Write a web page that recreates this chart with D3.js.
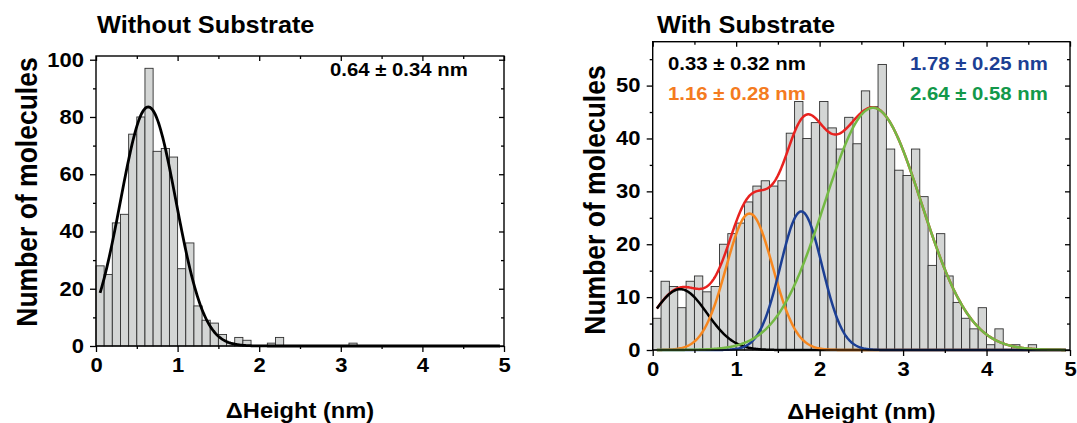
<!DOCTYPE html>
<html>
<head>
<meta charset="utf-8">
<script src="https://cdn.jsdelivr.net/npm/d3@7"></script>
<style>
  body { margin: 0; background: #fff; }
  svg { display: block; font-family: "Liberation Sans", Arial, sans-serif; font-weight: bold; }
</style>
</head>
<body>
<div id="vis"></div>
<script>
// histogram counts, bins of 0.1 nm starting at 0
const binWidth = 0.1
const countsBare = [28, 25, 43, 46, 74, 80, 97, 68, 69, 66,
                    27, 36, 14, 9, 8, 4, 1, 3, 2, 0,
                    0, 1, 3, 0, 0, 0, 0, 0, 0, 0,
                    0, 1]
const countsSubstrate = [6, 13, 12, 8, 13, 14, 11, 12, 20, 22,
                         24, 28, 31, 32, 31, 32, 41, 47, 40, 43,
                         47, 42, 38, 44, 39, 49, 46, 54, 38, 34,
                         33, 38, 29, 16, 22, 14, 9, 6, 4, 8,
                         1, 4, 0, 1, 0, 1]

// gaussian fits
const fitMeansBare = [0.64]
const fitSdsBare = [0.34]
const fitAmpsBare = [83.5]
const fitMeansSubstrate = [0.33, 1.16, 1.78, 2.64]
const fitSdsSubstrate = [0.32, 0.28, 0.25, 0.58]
const fitAmpsSubstrate = [11.5, 25.8, 26.2, 45.8]

const xTicks = [0, 1, 2, 3, 4, 5]
const xMinor = [0.5, 1.5, 2.5, 3.5, 4.5]
const yTicksBare = [0, 20, 40, 60, 80, 100]
const yMinorBare = [10, 30, 50, 70, 90]
const yTicksSubstrate = [0, 10, 20, 30, 40, 50]
const yMinorSubstrate = [5, 15, 25, 35, 45, 55]

const labelsBare = ['0.64 ± 0.34 nm']
const labelsSubstrate = ['0.33 ± 0.32 nm', '1.16 ± 0.28 nm', '1.78 ± 0.25 nm', '2.64 ± 0.58 nm']

const compColors = ['#000000', '#f7871f', '#1c3f94', '#74b944']
const textColors = ['#000000', '#f47b20', '#1c3f94', '#12984a']
const sumColor = '#e8221f'
const sx = 1.1   // the figure is a bit wider than tall

const svg = d3.select('#vis').append('svg')
    .attr('width', 1077)
    .attr('height', 423)

function gauss(x, m, s, a){
    return a * Math.exp(-(x - m) * (x - m) / (2 * s * s))
}

function txt(g, x, y, s, size, anchor, color, rot){
    return g.append('text')
        .attr('transform', `translate(${x},${y}) scale(${sx},1)` + (rot ? ' rotate(-90)' : ''))
        .attr('text-anchor', anchor)
        .style('font-size', size + 'px')
        .attr('fill', color)
        .text(s)
}

function drawPanel(p){
    const g = svg.append('g')
    const x = d3.scaleLinear([0, 5], [p.left, p.right])
    const y = d3.scaleLinear([0, p.yMax], [p.bottom, p.top])

    // bars
    const bins = p.counts.map((c, i) => ({x0: i * binWidth, c: c})).filter(d => d.c > 0)
    g.selectAll('rect.bar')
        .data(bins)
        .join('rect')
        .attr('class', 'bar')
        .attr('x', d => x(d.x0))
        .attr('width', x(binWidth) - x(0))
        .attr('y', d => y(d.c))
        .attr('height', d => y(0) - y(d.c))
        .attr('fill', '#d4d6d5')
        .attr('stroke', '#303030')
        .attr('stroke-width', 0.9)

    // fit curves
    const xs = d3.range(0.05, 4.951, 0.01)
    const line = d3.line().x(d => x(d[0])).y(d => y(d[1]))
    if (p.means.length > 1){
        const sum = xs.map(v => [v, d3.sum(p.means, (m, i) => gauss(v, m, p.sds[i], p.amps[i]))])
        g.append('path').datum(sum).attr('d', line)
            .attr('fill', 'none').attr('stroke', sumColor).attr('stroke-width', 2.5)
    }
    p.means.forEach((m, i) => {
        const pts = xs.map(v => [v, gauss(v, m, p.sds[i], p.amps[i])])
        g.append('path').datum(pts).attr('d', line)
            .attr('fill', 'none')
            .attr('stroke', p.means.length > 1 ? compColors[i] : '#000')
            .attr('stroke-width', p.means.length > 1 ? 2.5 : 2.8)
    })

    // axes
    const fmt = d3.format('d')
    const axes = [
        [d3.axisBottom(x).tickValues(xTicks).tickSize(6).tickPadding(6).tickFormat(fmt), `translate(0,${p.bottom})`],
        [d3.axisBottom(x).tickValues(xMinor).tickSize(3).tickFormat(''), `translate(0,${p.bottom})`],
        [d3.axisTop(x).tickValues(xTicks).tickSize(-5).tickFormat(''), `translate(0,${p.top})`],
        [d3.axisTop(x).tickValues(xMinor).tickSize(-3).tickFormat(''), `translate(0,${p.top})`],
        [d3.axisLeft(y).tickValues(p.yTicks).tickSize(6).tickPadding(5).tickFormat(fmt), `translate(${p.left},0)`],
        [d3.axisLeft(y).tickValues(p.yMinor).tickSize(3).tickFormat(''), `translate(${p.left},0)`],
        [d3.axisRight(y).tickValues(p.yTicks).tickSize(-5).tickFormat(''), `translate(${p.right},0)`],
        [d3.axisRight(y).tickValues(p.yMinor).tickSize(-3).tickFormat(''), `translate(${p.right},0)`]
    ]
    axes.forEach(a => {
        const ag = g.append('g').attr('transform', a[1]).call(a[0])
        ag.select('.domain').remove()
        ag.selectAll('line').attr('stroke', '#000').attr('stroke-width', 1.3)
        ag.selectAll('text')
            .attr('fill', '#000')
            .style('font-size', '20px')
            .style('font-family', '"Liberation Sans", Arial, sans-serif')
            .style('font-weight', 'bold')
            .attr('transform', `scale(${sx},1)`)
    })

    g.append('rect')
        .attr('x', p.left).attr('y', p.top)
        .attr('width', p.right - p.left).attr('height', p.bottom - p.top)
        .attr('fill', 'none').attr('stroke', '#000').attr('stroke-width', 1.4)

    // titles and labels
    txt(g, p.titleX, 33, p.title, 23, 'start', '#000')
    txt(g, (p.left + p.right) / 2, p.xLabelY, 'ΔHeight (nm)', 21.5, 'middle', '#000')
    txt(g, p.yLabelX, p.yLabelY, 'Number of molecules', 26.5, 'middle', '#000', true)

    p.labels.forEach((s, i) => {
        txt(g, p.labelPos[i][0], p.labelPos[i][1], s, 18.5, 'start', p.labels.length > 1 ? textColors[i] : '#000')
    })
}

drawPanel({
    left: 96, right: 504, top: 56, bottom: 346, yMax: 101.3,
    counts: countsBare, means: fitMeansBare, sds: fitSdsBare, amps: fitAmpsBare,
    yTicks: yTicksBare, yMinor: yMinorBare,
    title: 'Without Substrate', titleX: 97, labels: labelsBare, labelPos: [[330, 76]],
    xLabelY: 418, yLabelX: 37, yLabelY: 192
})

drawPanel({
    left: 652.7, right: 1070, top: 41.7, bottom: 350, yMax: 58.3,
    counts: countsSubstrate, means: fitMeansSubstrate, sds: fitSdsSubstrate, amps: fitAmpsSubstrate,
    yTicks: yTicksSubstrate, yMinor: yMinorSubstrate,
    title: 'With Substrate', titleX: 657, labels: labelsSubstrate,
    labelPos: [[668, 70], [668, 100], [910, 70], [910, 100]],
    xLabelY: 419, yLabelX: 605, yLabelY: 200
})
</script>
</body>
</html>
